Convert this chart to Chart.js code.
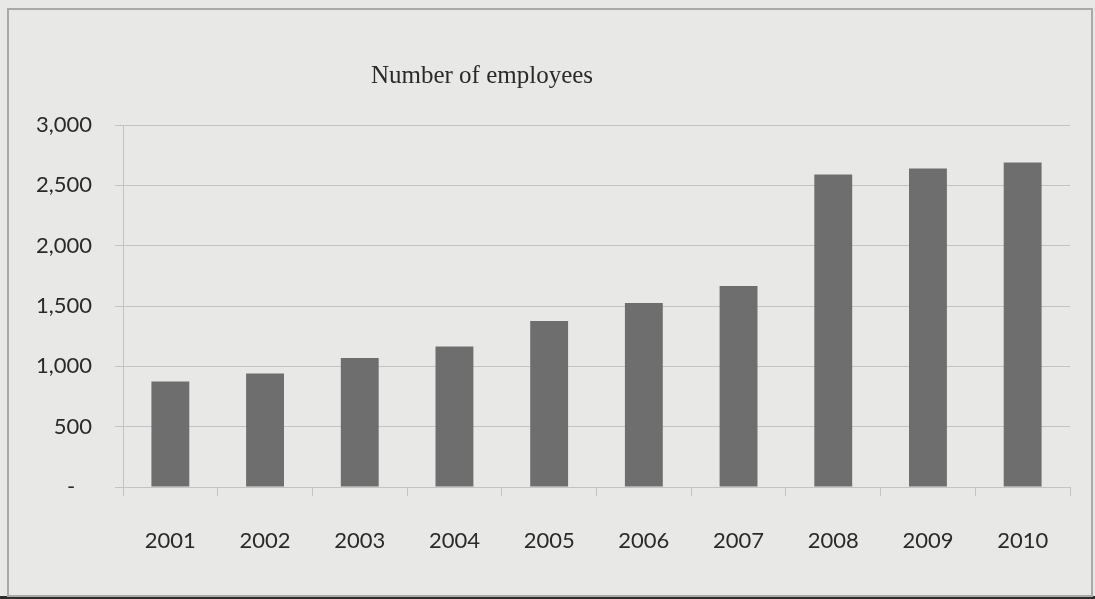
<!DOCTYPE html>
<html>
<head>
<meta charset="utf-8">
<script src="https://cdn.jsdelivr.net/npm/chart.js@4/dist/chart.umd.min.js"></script>
<style>
  html, body { margin: 0; padding: 0; background: #e8e8e6; }
  #wrap { width: 1095px; height: 599px; position: relative; }
</style>
</head>
<body>
<div id="wrap"><canvas id="c" width="1095" height="599"></canvas></div>
<script>
// Employee headcount per year
const years = ['2001', '2002', '2003', '2004', '2005', '2006', '2007', '2008', '2009', '2010'];
const employees = [875, 940, 1070, 1165, 1375, 1525, 1665, 2590, 2640, 2690];
const yTicks = [0, 500, 1000, 1500, 2000, 2500, 3000];
const chartTitle = 'Number of employees';

const labelFont = "Lato, 'Open Sans', sans-serif";
const textColor = '#2a2a2a';
const gridColor = '#c3c3c1';

// Paper background, frame and the title above the plot
const framePlugin = {
  id: 'frame',
  beforeDraw(chart) {
    const ctx = chart.ctx;
    ctx.save();
    ctx.fillStyle = '#e8e8e6';
    ctx.fillRect(0, 0, chart.width, chart.height);
    ctx.fillStyle = '#2e2e2e';
    ctx.fillRect(0, 596, chart.width, chart.height - 596);
    ctx.strokeStyle = '#a9a9a7';
    ctx.lineWidth = 2;
    ctx.strokeRect(8, 9, 1084, 587);
    ctx.restore();
  },
  afterDraw(chart) {
    const ctx = chart.ctx;
    const area = chart.chartArea;
    ctx.save();
    ctx.fillStyle = '#2a2a2a';
    ctx.font = "25px 'Liberation Serif', 'DejaVu Serif', serif";
    ctx.textAlign = 'center';
    ctx.textBaseline = 'alphabetic';
    ctx.fillText(chartTitle, area.left + 359, area.top - 42);
    ctx.restore();
  }
};

new Chart(document.getElementById('c'), {
  type: 'bar',
  data: {
    labels: years,
    datasets: [{
      data: employees,
      backgroundColor: '#6e6e6e',
      borderWidth: 0,
      barPercentage: 0.4,
      categoryPercentage: 1.0
    }]
  },
  options: {
    responsive: false,
    animation: false,
    layout: { padding: { top: 125, right: 25, left: 0, bottom: 0 } },
    plugins: {
      legend: { display: false },
      tooltip: { enabled: false },
      title: { display: false }
    },
    scales: {
      x: {
        offset: true,
        afterFit(scale) { scale.height = 112; },
        grid: {
          offset: true,
          drawOnChartArea: false,
          drawTicks: true,
          tickLength: 9,
          color: gridColor,
          lineWidth: 1
        },
        border: { display: true, color: gridColor, width: 1 },
        ticks: {
          color: textColor,
          font: { family: labelFont, size: 22 },
          padding: 32,
          maxRotation: 0
        }
      },
      y: {
        min: 0,
        max: 3000,
        afterFit(scale) { scale.width = 123; },
        afterBuildTicks(scale) { scale.ticks = yTicks.map(v => ({ value: v })); },
        grid: {
          color: gridColor,
          lineWidth: 1,
          drawTicks: true,
          tickLength: 8
        },
        border: { display: true, color: gridColor, width: 1 },
        ticks: {
          color: textColor,
          font: { family: labelFont, size: 22 },
          padding: 23,
          callback(v) { return v === 0 ? '-   ' : v.toLocaleString('en-US'); }
        }
      }
    }
  },
  plugins: [framePlugin]
});
</script>
</body>
</html>
